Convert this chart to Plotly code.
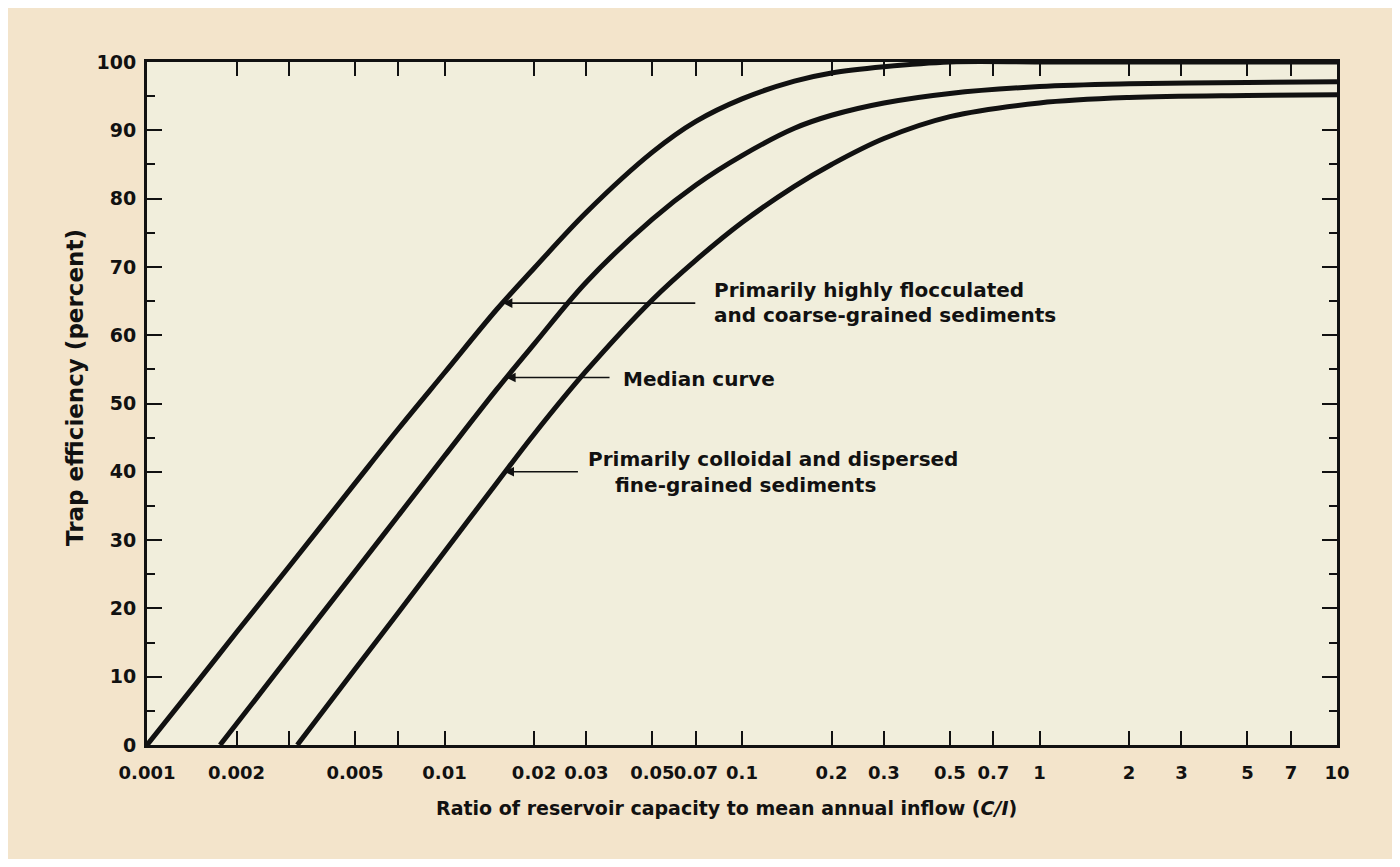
import plotly.graph_objects as go
import math

# ---- data ----
coarse_x = [0.001, 0.0015, 0.002, 0.003, 0.005, 0.007, 0.01, 0.015, 0.02, 0.03,
            0.05, 0.07, 0.1, 0.15, 0.2, 0.3, 0.5, 1, 2, 5, 10]
coarse_y = [0, 9.6, 16.5, 26.1, 38.3, 46.3, 54.5, 63.8, 69.8, 78,
            86.8, 91.3, 94.6, 97.2, 98.4, 99.3, 100, 100, 100, 100, 100]

median_x = [0.00176, 0.002, 0.003, 0.005, 0.007, 0.01, 0.015, 0.02, 0.03, 0.05,
            0.07, 0.1, 0.15, 0.2, 0.3, 0.5, 1, 2, 5, 10]
median_y = [0, 3.1, 13.0, 25.4, 33.6, 42.3, 52.1, 58.7, 67.8, 77,
            82, 86.3, 90.3, 92.2, 94, 95.4, 96.4, 96.8, 97, 97.1]

fine_x = [0.0032, 0.005, 0.007, 0.01, 0.015, 0.02, 0.03, 0.05, 0.07, 0.1,
          0.15, 0.2, 0.3, 0.5, 1, 2, 5, 10]
fine_y = [0, 11.1, 19.4, 28.3, 38.4, 45.5, 54.8, 65.2, 71, 76.5,
          81.8, 85, 88.8, 92, 94, 94.8, 95.1, 95.2]

x_tickvals = [0.001, 0.002, 0.003, 0.005, 0.007, 0.01, 0.02, 0.03, 0.05, 0.07,
              0.1, 0.2, 0.3, 0.5, 0.7, 1, 2, 3, 5, 7, 10]
x_ticktext = ["0.001", "0.002", "", "0.005", "", "0.01", "0.02", "0.03", "0.05", "0.07",
              "0.1", "0.2", "0.3", "0.5", "0.7", "1", "2", "3", "5", "7", "10"]
y_tickvals = [0, 10, 20, 30, 40, 50, 60, 70, 80, 90, 100]

label_lines = [["Primarily highly flocculated", "and coarse-grained sediments"],
               ["Median curve"],
               ["Primarily colloidal and dispersed", "fine-grained sediments"]]
x_title = "Ratio of reservoir capacity to mean annual inflow (<i>C/I</i>)"
y_title = "Trap efficiency (percent)"

FONT = "DejaVu Sans, Liberation Sans, Arial, sans-serif"
INK = "#111111"

fig = go.Figure()
for xs, ys in [(coarse_x, coarse_y), (median_x, median_y), (fine_x, fine_y)]:
    fig.add_trace(go.Scatter(x=xs, y=ys, mode="lines",
                             line=dict(color=INK, width=5, shape="spline", smoothing=1.0),
                             showlegend=False, hoverinfo="skip"))

# arrows (tip on the curves)
arrow_specs = [(0.0157, 64.7, 194), (0.0161, 53.8, 105), (0.0159, 40, 75)]
for (xv, yv, ax) in arrow_specs:
    fig.add_annotation(x=math.log10(xv), y=yv, xref="x", yref="y", text="",
                       showarrow=True, ax=ax, ay=0, arrowhead=2, arrowsize=1.2,
                       arrowwidth=1.6, arrowcolor=INK)

# label text lines: (anchor index, line text, xshift, yshift)
txtfont = dict(family=FONT, size=20, color=INK, weight="bold")
line_specs = [(0, label_lines[0][0], 209, 13), (0, label_lines[0][1], 209, -12),
              (1, label_lines[1][0], 115, -1),
              (2, label_lines[2][0], 82, 13), (2, label_lines[2][1], 109, -13)]
for idx, txt, xs_, ys_ in line_specs:
    xv, yv, _ = arrow_specs[idx]
    fig.add_annotation(x=math.log10(xv), y=yv, xref="x", yref="y", text=txt,
                       showarrow=False, xanchor="left", yanchor="middle",
                       xshift=xs_, yshift=ys_, font=txtfont)

# axis titles as annotations (positioned like the reference)
fig.add_annotation(x=0, y=0.5227, xref="paper", yref="paper", text=y_title,
                   showarrow=False, textangle=-90, xanchor="center", yanchor="middle",
                   xshift=-72, font=dict(family=FONT, size=23, color=INK, weight="bold"))
fig.add_annotation(x=0.4866, y=0, xref="paper", yref="paper", text=x_title,
                   showarrow=False, xanchor="center", yanchor="middle",
                   yshift=-63, font=dict(family=FONT, size=19, color=INK, weight="bold"))

fig.update_layout(
    width=1384, height=851,
    margin=dict(l=139, r=55, t=54, b=114),
    paper_bgcolor="#F3E4CB",
    plot_bgcolor="#F1EEDC",
    font=dict(family=FONT, color=INK),
    showlegend=False,
)
fig.update_xaxes(
    type="log", range=[-3, 1],
    tickmode="array", tickvals=x_tickvals, ticktext=x_ticktext, tickangle=0,
    ticks="inside", ticklen=14, tickwidth=2, tickcolor=INK,
    showline=True, linecolor=INK, linewidth=3, mirror="ticks",
    showgrid=False, zeroline=False, ticklabelstandoff=9,
    tickfont=dict(family=FONT, size=18, color=INK, weight="bold"),
)
fig.update_yaxes(
    range=[0, 100],
    tickmode="array", tickvals=y_tickvals,
    ticks="inside", ticklen=15, tickwidth=2, tickcolor=INK,
    minor=dict(dtick=5, ticks="inside", ticklen=8, tickwidth=2, tickcolor=INK),
    showline=True, linecolor=INK, linewidth=3, mirror="ticks",
    showgrid=False, zeroline=False, ticklabelstandoff=4,
    tickfont=dict(family=FONT, size=19, color=INK, weight="bold"),
)

fig.write_html("out.html")
